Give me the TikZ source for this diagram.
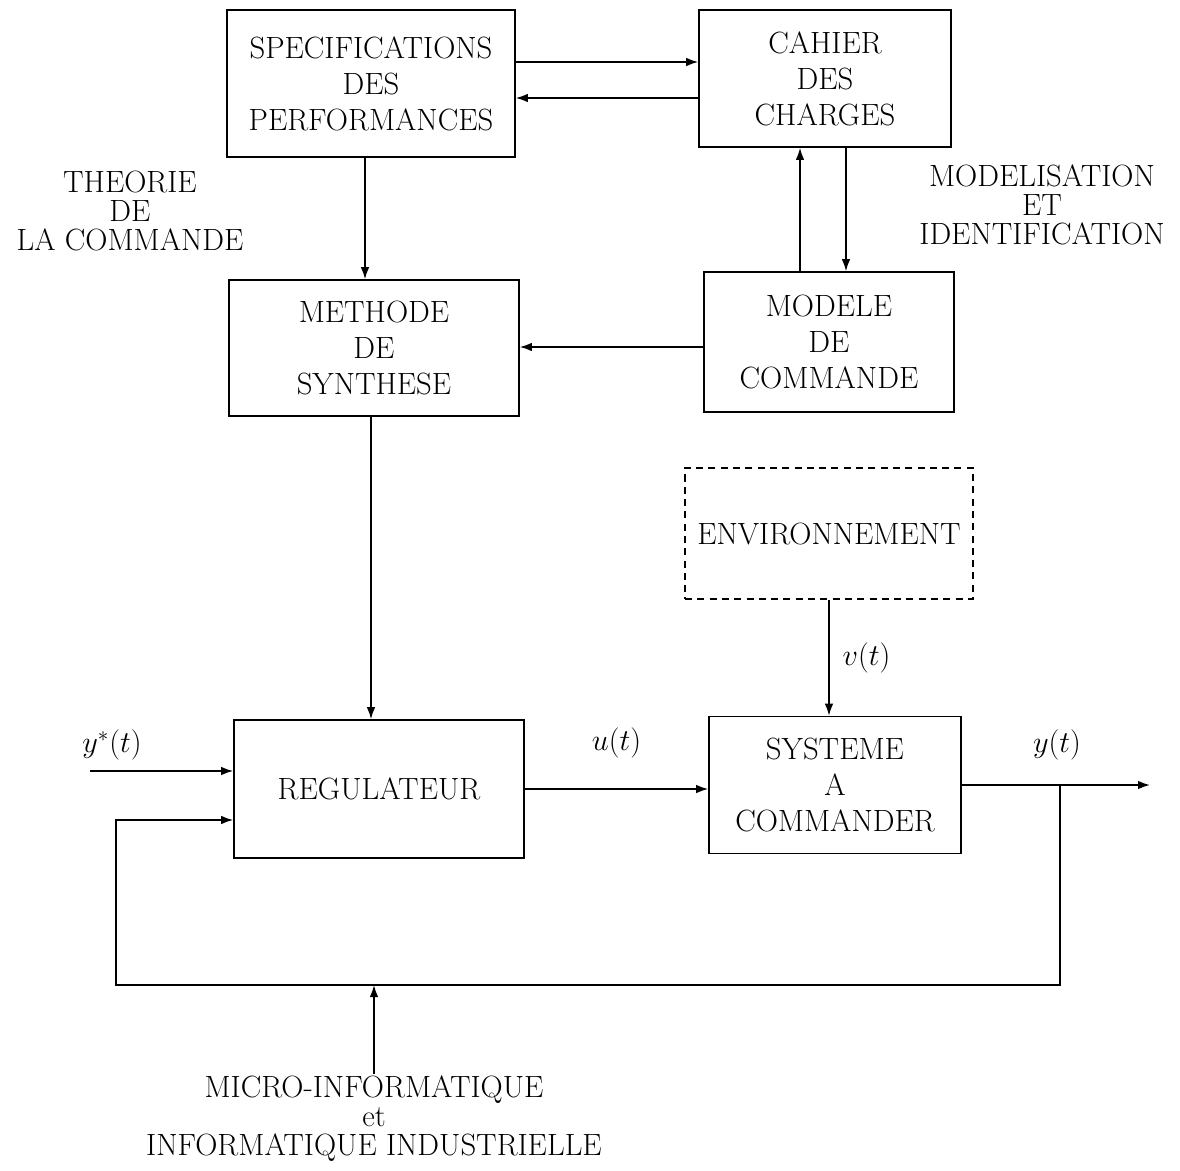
\documentclass[tikz,border=0pt]{standalone}
\usetikzlibrary{arrows.meta}
\tikzset{
  bloc/.style={draw, line width=0.9pt, align=center, font=\fontsize{17.5}{20.5}\selectfont},
  lbl/.style={align=center, font=\fontsize{17.5}{16.5}\selectfont},
  mth/.style={font=\fontsize{17.5}{20}\selectfont},
  fl/.style={line width=0.9pt, -{Latex[length=2.4mm,width=1.7mm]}},
  ln/.style={line width=0.9pt}
}
\begin{document}
\begin{tikzpicture}[x=0.02cm,y=-0.02cm]
  \useasboundingbox (0,0) rectangle (1180,1170);
  \node[bloc, minimum width=5.76cm, minimum height=2.94cm] (spec) at (371,83.5) {SPECIFICATIONS\\DES\\PERFORMANCES};
  \node[bloc, minimum width=5.04cm, minimum height=2.74cm] (cahier) at (825,78.5) {CAHIER\\DES\\CHARGES};
  \node[bloc, minimum width=5.8cm, minimum height=2.72cm] (methode) at (374,348) {METHODE\\DE\\SYNTHESE};
  \node[bloc, minimum width=5.0cm, minimum height=2.8cm] (modele) at (829,342) {MODELE\\DE\\COMMANDE};
  \node[bloc, dash pattern=on 4pt off 3pt, minimum width=5.76cm, minimum height=2.62cm] (env) at (829,533.5) {ENVIRONNEMENT};
  \node[bloc, minimum width=5.8cm, minimum height=2.76cm] (reg) at (379,789) {REGULATEUR};
  \node[bloc, minimum width=5.04cm, minimum height=2.74cm] (sys) at (835,785) {SYSTEME\\A\\COMMANDER};

  \node[lbl] (theorie) at (130,211) {THEORIE\\DE\\LA COMMANDE};
  \node[lbl] (modelis) at (1042,205) {MODELISATION\\ET\\IDENTIFICATION};
  \node[lbl, anchor=north, inner sep=1pt] (micro) at (374,1074) {MICRO-INFORMATIQUE\\et\\INFORMATIQUE INDUSTRIELLE};

  \draw[fl] ([yshift=0.43cm]spec.east) -- ([yshift=0.43cm]spec.east -| cahier.west);
  \draw[fl] ([yshift=-0.29cm]spec.east -| cahier.west) -- ([yshift=-0.29cm]spec.east);
  \draw[fl] ([xshift=-0.58cm]modele.north) -- ([xshift=-0.58cm]modele.north |- cahier.south);
  \draw[fl] ([xshift=0.34cm]modele.north |- cahier.south) -- ([xshift=0.34cm]modele.north);
  \draw[fl] ([xshift=-0.12cm]spec.south) -- ([xshift=-0.12cm]spec.south |- methode.north);
  \draw[fl] ([yshift=-0.1cm]modele.west) -- ([yshift=-0.1cm]modele.west -| methode.east);
  \draw[fl] ([xshift=-0.06cm]methode.south) -- ([xshift=-0.06cm]methode.south |- reg.north);
  \draw[fl] (env.south) -- node[right, mth, xshift=4pt] (vt) {$v(t)$} (env.south |- sys.north);

  \coordinate (in) at (90,771);
  \node[mth] (ystar) at (112,745) {$y^*(t)$};
  \draw[fl] (in) -- (in -| reg.west);
  \draw[fl] (reg.east) -- node[above, mth, yshift=14pt] (ut) {$u(t)$} (reg.east -| sys.west);
  \coordinate (out) at (1150,785);
  \draw[fl] (sys.east) -- (out);
  \node[mth] (yt) at (1057,745) {$y(t)$};

  \coordinate (tap) at (1060,785);
  \coordinate (fbr) at (1060,985);
  \coordinate (fbl) at (116,985);
  \draw[fl] (tap) -- (fbr) -- (fbl) -- ([yshift=-0.62cm]fbl |- reg.west) -- ([yshift=-0.62cm]reg.west);
  \draw[fl] (micro.north) -- (micro.north |- fbr);
\end{tikzpicture}
\end{document}
